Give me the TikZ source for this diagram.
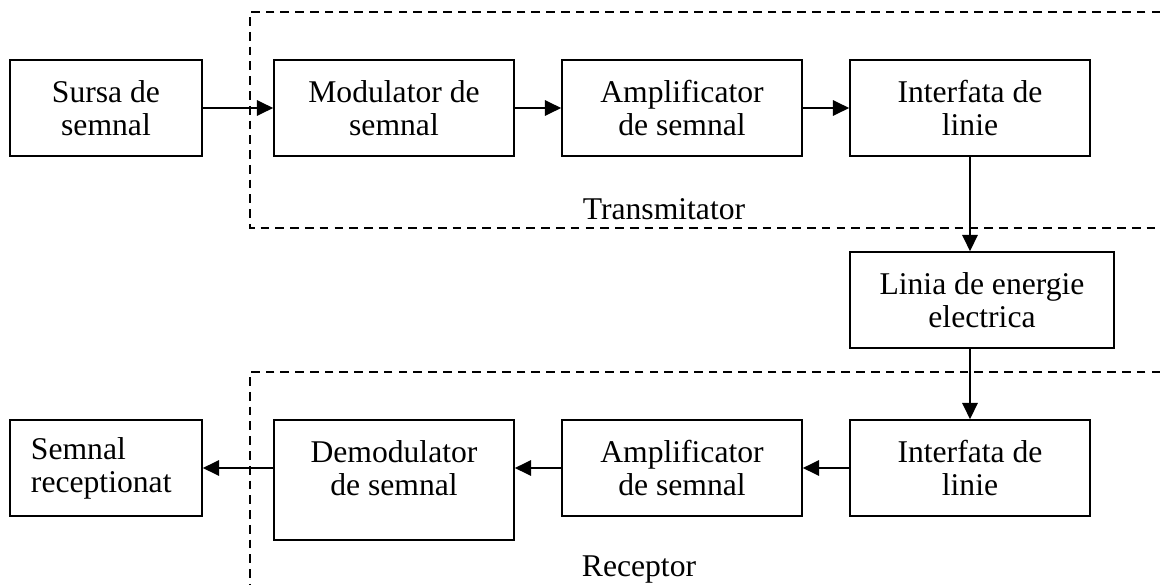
\documentclass[tikz,border=0pt]{standalone}
\usepackage{fontspec}
\setmainfont{Liberation Serif}
\usetikzlibrary{arrows.meta}
\begin{document}
\begin{tikzpicture}[x=0.025cm, y=-0.025cm, line width=1.2pt,
		font=\fontsize{22.5pt}{23.5pt}\selectfont,
		box/.style={draw, rectangle, align=center, inner sep=0pt, minimum width=6cm, minimum height=2.4cm},
		frame/.style={dash pattern=on 6.2pt off 4.3pt},
		>={Triangle[length=11.5pt, width=11pt]}]
	\useasboundingbox (0,0) rectangle (1160,585);

	% emitator and receptor frames, open to the right
	\draw[frame] (1175,12) -- (250,12) -- (250,228) -- (1175,228);
	\draw[frame] (1175,372) -- (250,372) -- (250,600);
	\node (T) at (664,209) {Transmitator};
	\node (R) at (639,570) {Receptor};

	\node[box, minimum width=4.8cm] (S) at (106,108) {Sursa de\\semnal};
	\node[box] (M) at (394,108) {Modulator de\\semnal};
	\node[box] (A) at (682,108) {Amplificator\\de semnal};
	\node[box] (I) at (970,108) {Interfata de\\linie};

	\node[box, minimum width=6.6cm] (L) at (982,300) {Linia de energie\\electrica};

	\node[box] (J) at (970,468) {Interfata de\\linie};
	\node[box] (B) at (682,468) {Amplificator\\de semnal};
	\node[box, minimum height=3cm] (D) at (394,480) {};
	\node[align=center] (Dt) at (394,468) {Demodulator\\de semnal};
	\node[box, minimum width=4.8cm, align=left, text width=3.75cm, inner xsep=0.525cm] (O) at (106,468) {Semnal\\receptionat};

	\path [->] (S) edge (M);
	\path [->] (M) edge (A);
	\path [->] (A) edge (I);
	\path [->] (I.south) edge (I.south |- L.north);
	\path [->] (L.south -| J.north) edge (J.north);
	\path [->] (J) edge (B);
	\path [->] (B) edge (B -| D.east);
	\path [->] (D.west |- O) edge (O);
\end{tikzpicture}
\end{document}
